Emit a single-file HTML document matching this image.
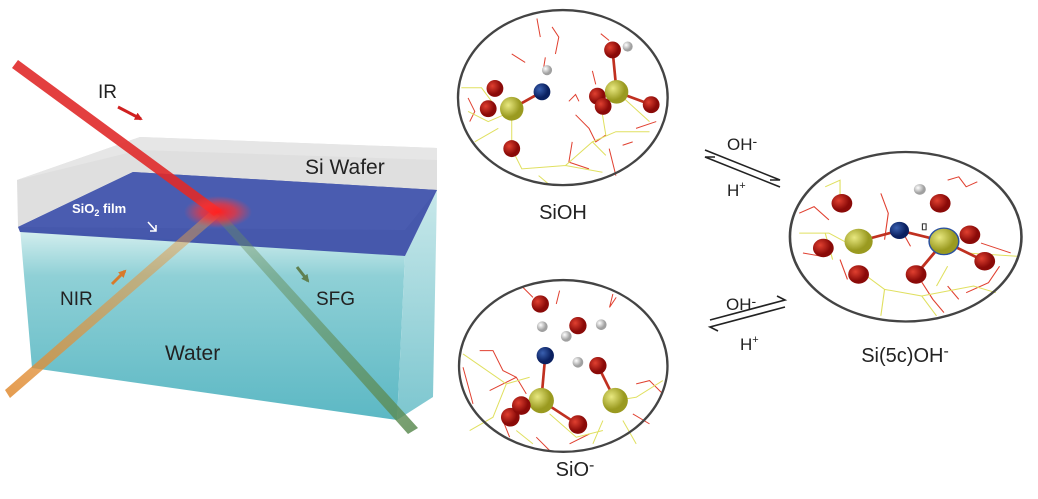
<!DOCTYPE html>
<html><head><meta charset="utf-8"><style>
html,body{margin:0;padding:0;background:#fff;width:1038px;height:499px;overflow:hidden}
svg{display:block}
text{font-family:"Liberation Sans",sans-serif}
</style></head><body>
<svg width="1038" height="499" viewBox="0 0 1038 499" xmlns="http://www.w3.org/2000/svg">
<defs>
<radialGradient id="glow"><stop offset="0" stop-color="#ff2020" stop-opacity="1"/><stop offset="0.5" stop-color="#ff3030" stop-opacity="0.7"/><stop offset="1" stop-color="#ff4040" stop-opacity="0"/></radialGradient>
<linearGradient id="water" x1="0" y1="0" x2="0" y2="1"><stop offset="0" stop-color="#d8f0f0"/><stop offset="0.25" stop-color="#8fd0d6"/><stop offset="1" stop-color="#5cb8c4"/></linearGradient>
<linearGradient id="waterR" x1="0" y1="0" x2="0" y2="1"><stop offset="0" stop-color="#c8e8ea"/><stop offset="1" stop-color="#7cc6cf"/></linearGradient>
<linearGradient id="nir" x1="0" y1="1" x2="1" y2="0"><stop offset="0" stop-color="#e08a30"/><stop offset="1" stop-color="#e0a050" stop-opacity="0.5"/></linearGradient>
<linearGradient id="sfg" x1="0" y1="0" x2="1" y2="1"><stop offset="0" stop-color="#6a9060" stop-opacity="0.4"/><stop offset="1" stop-color="#5a8a50"/></linearGradient>
<radialGradient id="ry" cx="0.35" cy="0.35"><stop offset="0" stop-color="#e8e880"/><stop offset="1" stop-color="#9a9a20"/></radialGradient>
<radialGradient id="rr" cx="0.35" cy="0.35"><stop offset="0" stop-color="#e04030"/><stop offset="1" stop-color="#8a0a08"/></radialGradient>
<radialGradient id="rb" cx="0.35" cy="0.35"><stop offset="0" stop-color="#3a60b0"/><stop offset="1" stop-color="#0a2060"/></radialGradient>
<radialGradient id="rw" cx="0.35" cy="0.35"><stop offset="0" stop-color="#ffffff"/><stop offset="1" stop-color="#a0a0a0"/></radialGradient>
<marker id="ah" markerWidth="8" markerHeight="8" refX="6" refY="4" orient="auto" markerUnits="userSpaceOnUse"><path d="M0,0 L8,4 L0,8 z" fill="context-stroke"/></marker>
</defs>

<!-- Left box -->
<polygon points="20,228 405,256 397,420 32,368" fill="url(#water)"/>
<polygon points="405,256 437,190 433,397 397,420" fill="url(#waterR)"/>
<polygon points="17,180 140,137 437,148 437,190 405,230 18,227" fill="#dcdcdc" opacity="0.9"/>
<polygon points="17,180 140,137 437,148 437,160 140,150" fill="#e6e6e6"/>
<polygon points="18,227 133,172 437,190 405,256 20,232" fill="#3c4fa8" opacity="0.95"/>
<polygon points="18,227 133,172 437,190 405,230" fill="#4a5cb0"/>
<!-- beams -->
<polygon points="5,390 10,398 220,216 212,210" fill="url(#nir)" opacity="0.85"/>
<polygon points="212,214 220,210 418,428 408,434" fill="url(#sfg)" opacity="0.85"/>
<polygon points="12,68 18,60 222,210 214,216" fill="#e02a2a" opacity="0.9"/>
<ellipse cx="218" cy="212" rx="34" ry="16" fill="url(#glow)"/>
<!-- labels left -->
<text x="98" y="98" font-size="19" fill="#222">IR</text>
<line x1="118" y1="107" x2="141" y2="119" stroke="#d02020" stroke-width="3" marker-end="url(#ah)"/>
<text x="305" y="174" font-size="21" fill="#222">Si Wafer</text>
<text x="72" y="213" font-size="13" font-weight="bold" fill="#fff">SiO<tspan font-size="9" dy="3">2</tspan><tspan dy="-3"> film</tspan></text>
<path d="M148,222 L156,231 M150,231 L156,231 L156,225" stroke="#fff" stroke-width="1.5" fill="none"/>
<text x="60" y="305" font-size="19" fill="#222">NIR</text>
<line x1="112" y1="284" x2="125" y2="271" stroke="#d87a2a" stroke-width="3" marker-end="url(#ah)"/>
<text x="316" y="305" font-size="19" fill="#222">SFG</text>
<line x1="297" y1="267" x2="308" y2="281" stroke="#5f8050" stroke-width="3" marker-end="url(#ah)"/>
<text x="165" y="360" font-size="21" fill="#222">Water</text>

<!-- SiOH ellipse -->
<g transform="translate(447.9,-0.1) scale(0.336,0.338)">
<g stroke="#e04030" stroke-width="3" fill="none">
<path d="M265,55 L275,110 M310,80 L330,110 L320,160 M190,160 L230,185 M455,100 L480,120 M60,290 L80,330 L65,360 M360,300 L380,280 L390,300 M380,340 L420,380 L440,420 L470,400 M370,420 L360,480 L420,500 M480,440 L500,520 M560,380 L620,360 M520,430 L550,420 M290,170 L285,200 M430,210 L440,250"/>
</g>
<g stroke="#e0e060" stroke-width="3" fill="none">
<path d="M40,260 L100,260 L130,300 M60,330 L120,360 L190,330 M80,420 L150,380 M190,440 L220,500 L350,490 L460,510 M350,490 L430,420 L470,460 M430,420 L500,390 L600,390 M500,270 L600,360 M460,340 L470,400 M270,520 L300,545 M190,330 L190,440"/>
</g>
<g stroke="#c03020" stroke-width="8"><line x1="190" y1="322" x2="280" y2="272"/><line x1="502" y1="272" x2="605" y2="310"/><line x1="502" y1="272" x2="490" y2="148"/></g>
<circle cx="140" cy="262" r="25" fill="url(#rr)"/><circle cx="120" cy="322" r="25" fill="url(#rr)"/><circle cx="190" cy="440" r="25" fill="url(#rr)"/>
<circle cx="190" cy="322" r="35" fill="url(#ry)"/>
<circle cx="295" cy="208" r="15" fill="url(#rw)"/><circle cx="280" cy="272" r="25" fill="url(#rb)"/>
<circle cx="445" cy="285" r="25" fill="url(#rr)"/>
<circle cx="502" cy="272" r="35" fill="url(#ry)"/>
<circle cx="462" cy="315" r="25" fill="url(#rr)"/><circle cx="605" cy="310" r="25" fill="url(#rr)"/>
<circle cx="490" cy="148" r="25" fill="url(#rr)"/><circle cx="535" cy="138" r="15" fill="url(#rw)"/>
<ellipse cx="342" cy="289" rx="312" ry="259" fill="none" stroke="#444" stroke-width="7"/>
</g>
<text x="563" y="219" font-size="20" fill="#222" text-anchor="middle">SiOH</text>

<!-- Si5c ellipse -->
<g transform="translate(454.2,1.4) scale(0.371,0.331)">
<g stroke="#e04030" stroke-width="3" fill="none">
<path d="M1330,540 L1360,530 L1380,560 L1410,545 M930,640 L970,620 L1010,660 M940,760 L990,770 M1150,580 L1170,640 L1160,720 M1210,700 L1230,740 M1250,830 L1290,900 L1320,940 M1380,880 L1440,850 L1470,800 M1420,730 L1500,760 M1040,780 L1060,840 M1330,860 L1360,900"/>
</g>
<g stroke="#e0e060" stroke-width="3" fill="none">
<path d="M1000,560 L1040,540 L1040,600 M930,700 L1010,700 L1060,730 M1100,820 L1160,870 L1260,890 L1300,950 M1160,870 L1150,950 M1260,890 L1400,860 L1460,880 M1380,760 L1520,770 M1330,800 L1300,860 M1000,700 L1020,780"/>
</g>
<g stroke="#c03020" stroke-width="8"><line x1="1090" y1="725" x2="1200" y2="692"/><line x1="1320" y1="725" x2="1200" y2="692"/><line x1="1320" y1="725" x2="1245" y2="825"/><line x1="1320" y1="725" x2="1430" y2="785"/></g>
<circle cx="1045" cy="610" r="28" fill="url(#rr)"/><circle cx="995" cy="745" r="28" fill="url(#rr)"/>
<circle cx="1090" cy="725" r="38" fill="url(#ry)"/>
<circle cx="1090" cy="825" r="28" fill="url(#rr)"/>
<circle cx="1200" cy="692" r="26" fill="url(#rb)"/>
<circle cx="1255" cy="568" r="16" fill="url(#rw)"/>
<circle cx="1310" cy="610" r="28" fill="url(#rr)"/>
<circle cx="1390" cy="705" r="28" fill="url(#rr)"/>
<circle cx="1320" cy="725" r="40" fill="url(#ry)" stroke="#2a50a0" stroke-width="4"/>
<circle cx="1430" cy="785" r="28" fill="url(#rr)"/><circle cx="1245" cy="825" r="28" fill="url(#rr)"/>
<rect x="1262" y="672" width="10" height="18" fill="#fff" stroke="#333" stroke-width="3"/>
<ellipse cx="1217" cy="711" rx="312" ry="256" fill="none" stroke="#444" stroke-width="7"/>
</g>
<text x="905" y="362" font-size="20" fill="#222" text-anchor="middle">Si(5c)OH<tspan font-size="16" dy="-6">-</tspan></text>

<!-- SiO- ellipse -->
<g transform="translate(449.7,4.3) scale(0.333)">
<g stroke="#e04030" stroke-width="3" fill="none">
<path d="M220,850 L250,880 M330,860 L320,900 M490,870 L480,910 L500,880 M40,1090 L70,1200 M90,1040 L130,1040 L160,1100 L200,1120 M120,1160 L200,1120 L230,1170 M560,1140 L600,1130 L640,1170 M160,1250 L180,1300 M420,1290 L360,1320 M260,1300 L300,1340 M550,1230 L600,1260"/>
</g>
<g stroke="#e0e060" stroke-width="3" fill="none">
<path d="M40,1050 L170,1140 L240,1120 M170,1140 L130,1240 L60,1280 M300,1230 L380,1300 L460,1280 M497,1190 L560,1180 L640,1130 M460,1250 L430,1320 M520,1250 L560,1320 M200,1280 L250,1320"/>
</g>
<g stroke="#c03020" stroke-width="8"><line x1="275" y1="1190" x2="287" y2="1055"/><line x1="275" y1="1190" x2="385" y2="1262"/><line x1="497" y1="1190" x2="445" y2="1085"/></g>
<circle cx="272" cy="900" r="26" fill="url(#rr)"/><circle cx="278" cy="968" r="16" fill="url(#rw)"/>
<circle cx="385" cy="965" r="26" fill="url(#rr)"/><circle cx="455" cy="962" r="16" fill="url(#rw)"/><circle cx="350" cy="997" r="16" fill="url(#rw)"/>
<circle cx="287" cy="1055" r="26" fill="url(#rb)"/>
<circle cx="385" cy="1075" r="16" fill="url(#rw)"/><circle cx="445" cy="1085" r="26" fill="url(#rr)"/>
<circle cx="275" cy="1190" r="38" fill="url(#ry)"/>
<circle cx="182" cy="1240" r="28" fill="url(#rr)"/><circle cx="215" cy="1205" r="28" fill="url(#rr)"/>
<circle cx="385" cy="1262" r="28" fill="url(#rr)"/>
<circle cx="497" cy="1190" r="38" fill="url(#ry)"/>
<ellipse cx="341" cy="1086" rx="313" ry="258" fill="none" stroke="#444" stroke-width="7"/>
</g>
<text x="575" y="476" font-size="20" fill="#222" text-anchor="middle">SiO<tspan font-size="16" dy="-6">-</tspan></text>

<!-- equilibrium arrows -->
<g stroke="#222" stroke-width="1.6" fill="none">
<path d="M705,150 L780,180 L770,180"/>
<path d="M780,187 L705,157 L715,157"/>
<path d="M710,320 L785,300 L777,296"/>
<path d="M785,307 L710,327 L718,331"/>
</g>
<text x="727" y="150" font-size="17" fill="#222">OH<tspan font-size="14" dy="-4">-</tspan></text>
<text x="727" y="196" font-size="17" fill="#222">H<tspan font-size="11" dy="-7">+</tspan></text>
<text x="726" y="310" font-size="17" fill="#222">OH<tspan font-size="14" dy="-4">-</tspan></text>
<text x="740" y="350" font-size="17" fill="#222">H<tspan font-size="11" dy="-7">+</tspan></text>
</svg>
</body></html>
